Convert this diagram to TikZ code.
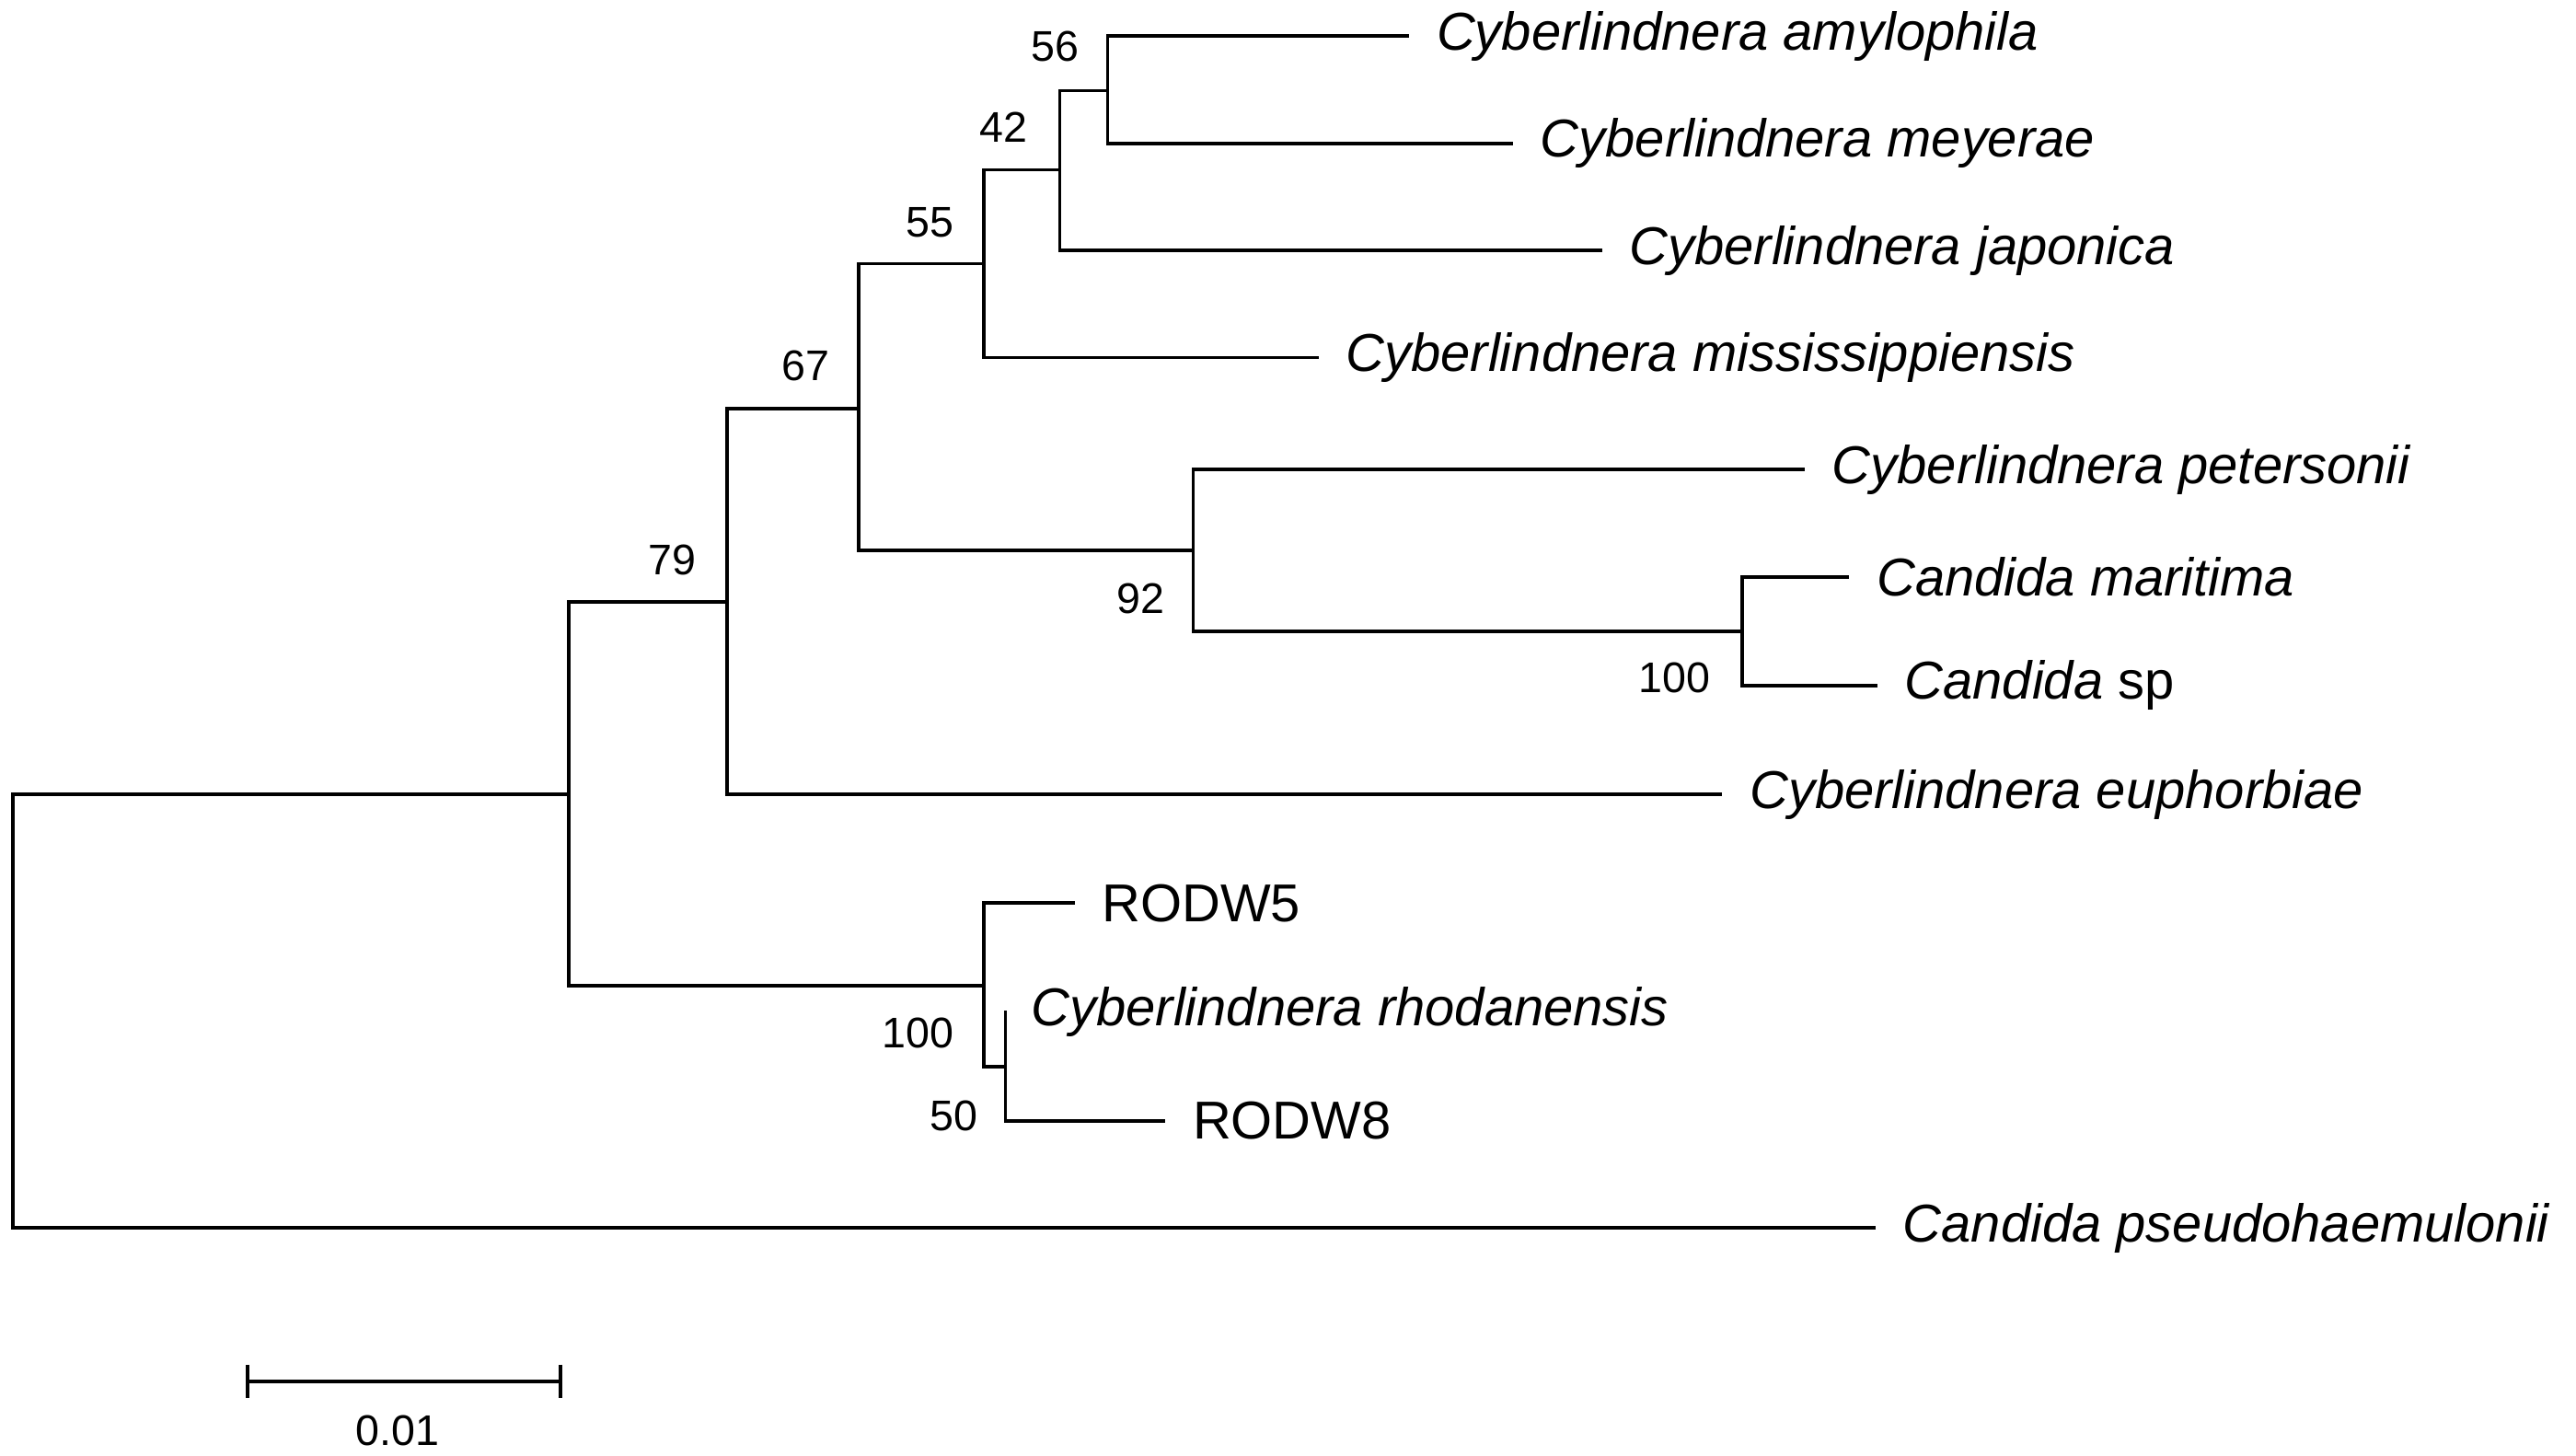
\documentclass[tikz,border=0pt]{standalone}
\usepackage{fontspec}
\setmainfont{Liberation Sans}
\begin{document}
\begin{tikzpicture}[x=0.01cm,y=-0.01cm]
  \tikzstyle{leaf}=[anchor=west, inner xsep=0.16cm, inner ysep=0pt, font=\fontsize{9.2}{11}\selectfont]
  \tikzstyle{boot}=[inner sep=0pt, font=\fontsize{7.4}{9}\selectfont]
  \tikzstyle{branch}=[line width=0.6pt]

  \useasboundingbox (0,0) rectangle (1563,883);

  % internal nodes
  \coordinate (root) at (8,   614);
  \coordinate (nA)   at (345, 482);
  \coordinate (n79)  at (441, 365);
  \coordinate (n67)  at (521, 248);
  \coordinate (n55)  at (597, 160);
  \coordinate (n42)  at (643, 103);
  \coordinate (n56)  at (672, 55);
  \coordinate (n92)  at (724, 334);
  \coordinate (n100) at (1057,383);
  \coordinate (nR)   at (597, 598);
  \coordinate (nR2)  at (610, 647);

  % leaves
  \node[leaf] (amy)  at (855, 22)  {\itshape Cyberlindnera amylophila};
  \node[leaf] (mey)  at (918, 87)  {\itshape Cyberlindnera meyerae};
  \node[leaf] (jap)  at (972, 152) {\itshape Cyberlindnera japonica};
  \node[leaf] (mis)  at (800, 217) {\itshape Cyberlindnera mississippiensis};
  \node[leaf] (pet)  at (1095,285) {\itshape Cyberlindnera petersonii};
  \node[leaf] (mar)  at (1122,350) {\itshape Candida maritima};
  \node[leaf] (csp)  at (1139,416) {\textit{Candida} sp};
  \node[leaf] (eup)  at (1045,482) {\itshape Cyberlindnera euphorbiae};
  \node[leaf] (r5)   at (652, 548) {RODW5};
  \node[leaf] (rho)  at (609, 614) {\itshape Cyberlindnera rhodanensis};
  \node[leaf] (r8)   at (707, 680) {RODW8};
  \node[leaf] (pse)  at (1138,745) {\itshape Candida pseudohaemulonii};

  % bootstrap values
  \node[boot] at (640, 28)  {56};
  \node[boot] at (609, 77)  {42};
  \node[boot] at (564, 135) {55};
  \node[boot] at (489, 222) {67};
  \node[boot] at (408, 340) {79};
  \node[boot] at (692, 363) {92};
  \node[boot] at (1016,411) {100};
  \node[boot] at (557, 627) {100};
  \node[boot] at (579, 677) {50};

  % branches
  \draw[branch] (root) |- (nA);
  \draw[branch] (root) |- (pse.west);
  \draw[branch] (nA) |- (n79);
  \draw[branch] (nA) |- (nR);
  \draw[branch] (n79) |- (n67);
  \draw[branch] (n79) |- (eup.west);
  \draw[branch] (n67) |- (n55);
  \draw[branch] (n67) |- (n92);
  \draw[branch] (n55) |- (n42);
  \draw[branch] (n55) |- (mis.west);
  \draw[branch] (n42) |- (n56);
  \draw[branch] (n42) |- (jap.west);
  \draw[branch] (n56) |- (amy.west);
  \draw[branch] (n56) |- (mey.west);
  \draw[branch] (n92) |- (pet.west);
  \draw[branch] (n92) |- (n100);
  \draw[branch] (n100) |- (mar.west);
  \draw[branch] (n100) |- (csp.west);
  \draw[branch] (nR) |- (r5.west);
  \draw[branch] (nR) |- (nR2);
  \draw[branch] (nR2) |- (rho.west);
  \draw[branch] (nR2) |- (r8.west);

  % scale bar
  \coordinate (s1) at (150, 838);
  \coordinate (s2) at (340, 838);
  \draw[branch] (s1) -- (s2);
  \draw[branch] ([yshift=0.1cm]s1) -- ([yshift=-0.1cm]s1);
  \draw[branch] ([yshift=0.1cm]s2) -- ([yshift=-0.1cm]s2);
  \node[boot] (scale) at (241, 868) {0.01};
\end{tikzpicture}
\end{document}
